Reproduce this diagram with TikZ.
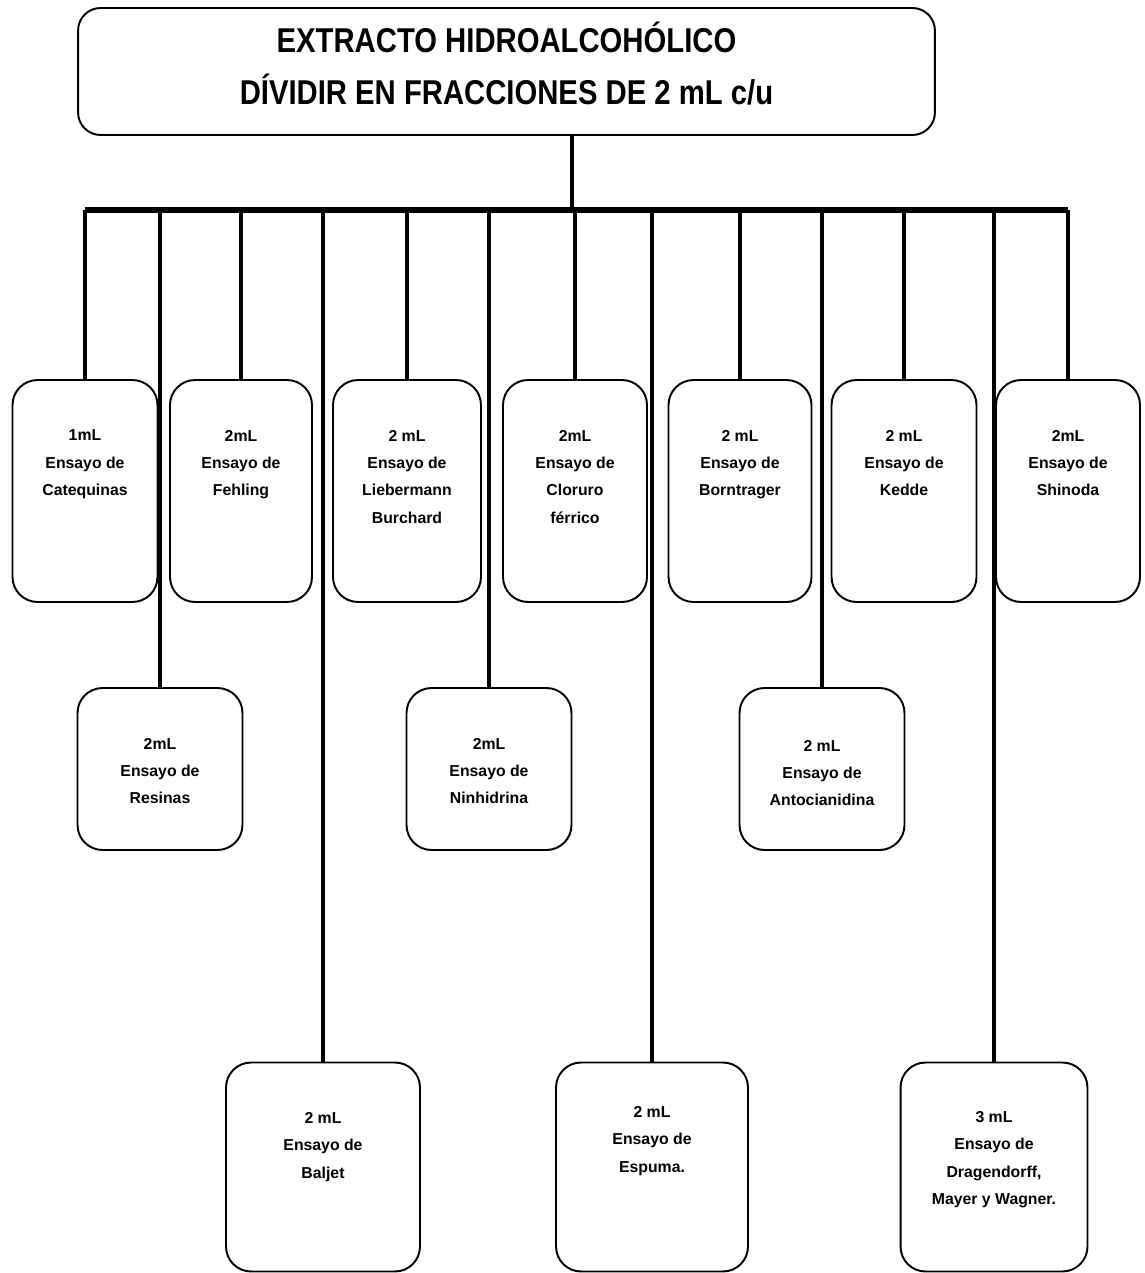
\documentclass[tikz,border=0pt]{standalone}
\usepackage{fontspec}
\setmainfont{Liberation Sans}
\newfontfamily\titlefont[FakeStretch=0.85]{Liberation Sans}
\usepackage{tikz}
\usetikzlibrary{positioning}

% box text: width, height, top gap, lines
\newcommand{\testtext}[4]{\parbox[c][#2][t]{#1}{\centering\fontsize{9}{15.6}\selectfont\bfseries\vspace*{#3}#4}}

\begin{document}
\begin{tikzpicture}[
  x=0.02cm, y=-0.02cm,
  titlebox/.style={draw, line width=1.1pt, rounded corners=0.45cm, minimum width=17.14cm, minimum height=2.54cm, text depth=9.5pt, align=center, font={\titlefont\bfseries\fontsize{19.6}{30}\selectfont}},
  testbox/.style={draw, line width=1.1pt, rounded corners=0.5cm, inner sep=0pt},
  drop/.style={line width=2pt},
  bus/.style={line width=3.4pt}
]
  \useasboundingbox (0,0) rectangle (1144,1273);

  \def\rowa{491}
  \def\rowb{769}
  \def\rowc{1167}

  \node[titlebox] (extract) at (506.5,71.5) {EXTRACTO HIDROALCOHÓLICO\\DÍVIDIR EN FRACCIONES DE 2 mL c/u};
  \coordinate (hub) at (572,210);

  % first row
  \node[testbox] (cateq) at (85,\rowa) {\testtext{2.9cm}{4.44cm}{1.0cm}{1mL\\Ensayo de\\Catequinas}};
  \node[testbox] (fehling) at (241,\rowa) {\testtext{2.84cm}{4.44cm}{1.0cm}{2mL\\Ensayo de\\Fehling}};
  \node[testbox] (lieber) at (407,\rowa) {\testtext{2.96cm}{4.44cm}{1.0cm}{2 mL\\Ensayo de\\Liebermann\\Burchard}};
  \node[testbox] (cloruro) at (575,\rowa) {\testtext{2.88cm}{4.44cm}{1.0cm}{2mL\\Ensayo de\\Cloruro\\férrico}};
  \node[testbox] (born) at (740,\rowa) {\testtext{2.86cm}{4.44cm}{1.0cm}{2 mL\\Ensayo de\\Borntrager}};
  \node[testbox] (kedde) at (904,\rowa) {\testtext{2.9cm}{4.44cm}{1.0cm}{2 mL\\Ensayo de\\Kedde}};
  \node[testbox] (shinoda) at (1068,\rowa) {\testtext{2.88cm}{4.44cm}{1.0cm}{2mL\\Ensayo de\\Shinoda}};

  % second row
  \node[testbox] (resinas) at (160,\rowb) {\testtext{3.3cm}{3.24cm}{1.0cm}{2mL\\Ensayo de\\Resinas}};
  \node[testbox] (ninhid) at (489,\rowb) {\testtext{3.3cm}{3.24cm}{1.0cm}{2mL\\Ensayo de\\Ninhidrina}};
  \node[testbox] (antoc) at (822,\rowb) {\testtext{3.3cm}{3.24cm}{1.04cm}{2 mL\\Ensayo de\\Antocianidina}};

  % third row
  \node[testbox] (baljet) at (323,\rowc) {\testtext{3.88cm}{4.18cm}{1.0cm}{2 mL\\Ensayo de\\Baljet}};
  \node[testbox] (espuma) at (652,\rowc) {\testtext{3.84cm}{4.18cm}{0.88cm}{2 mL\\Ensayo de\\Espuma.}};
  \node[testbox] (drag) at (994,\rowc) {\testtext{3.74cm}{4.18cm}{0.98cm}{3 mL\\Ensayo de\\Dragendorff,\\Mayer y Wagner.}};

  \draw[drop] (extract.south -| hub) -- (hub);
  \foreach \b in {cateq, resinas, fehling, baljet, lieber, ninhid, cloruro, espuma, born, antoc, kedde, drag, shinoda}
    \draw[drop] (\b.north) -- (\b.north |- hub);
  \draw[bus] (cateq.north |- hub) -- (shinoda.north |- hub);
\end{tikzpicture}
\end{document}
